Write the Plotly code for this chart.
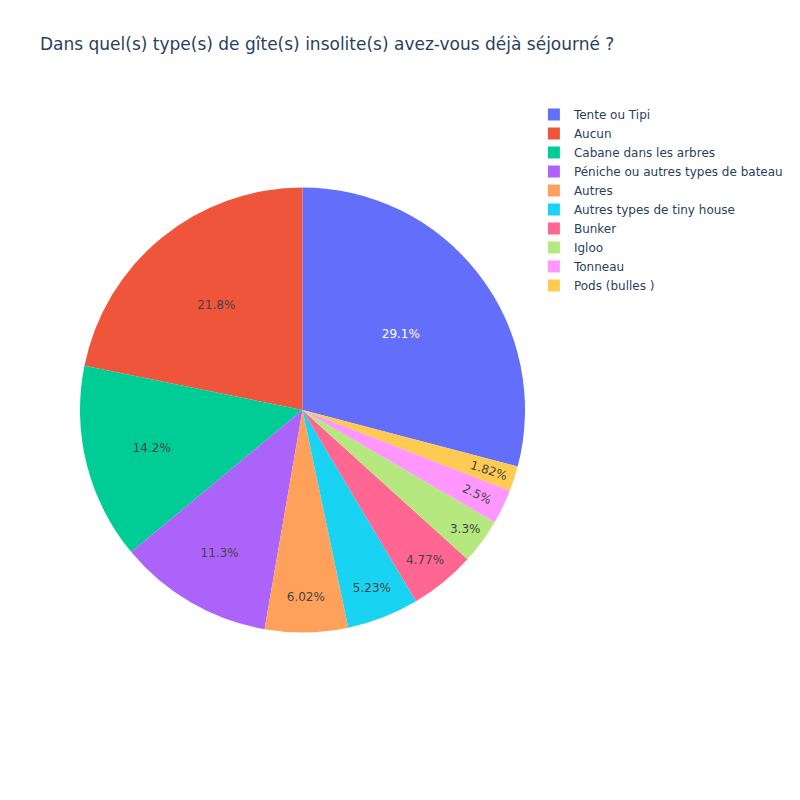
import plotly.graph_objects as go

labels = ["Tente ou Tipi", "Aucun", "Cabane dans les arbres",
          "Péniche ou autres types de bateau", "Autres",
          "Autres types de tiny house", "Bunker", "Igloo", "Tonneau",
          "Pods (bulles )"]
counts = [256, 192, 125, 99, 53, 46, 42, 29, 22, 16]

fig = go.Figure(go.Pie(labels=labels, values=counts))
fig.update_layout(
    width=800, height=800,
    title=dict(text="Dans quel(s) type(s) de gîte(s) insolite(s) avez-vous déjà séjourné ?"),
    font=dict(family="Verdana, DejaVu Sans, sans-serif"),
)
fig.write_html("out.html")
